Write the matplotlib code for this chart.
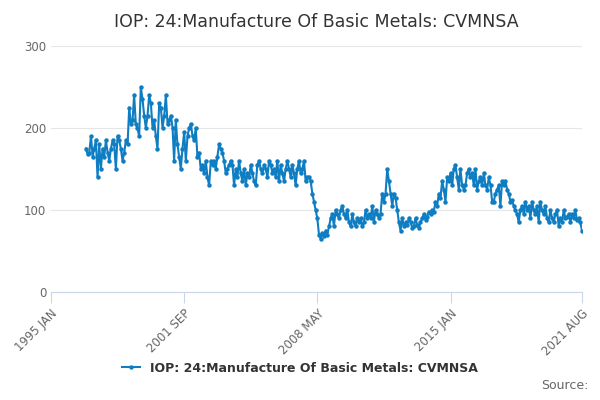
import numpy as np
import pandas as pd
import matplotlib
matplotlib.use('Agg')
import matplotlib.pyplot as plt

start = '1996-10'
v1996 = [175, 168, 170]
v1997 = [190, 165, 175, 185, 140, 180, 150, 175, 165, 185, 170, 160]
v1998 = [175, 185, 180, 150, 190, 185, 175, 160, 170, 185, 180, 225]
v1999 = [205, 210, 240, 205, 200, 190, 250, 235, 215, 200, 215, 240]
v2000 = [230, 200, 210, 190, 175, 230, 225, 200, 215, 240, 205, 210]
v2001 = [215, 200, 160, 210, 180, 165, 150, 175, 195, 160, 190, 200]
v2002 = [205, 190, 185, 200, 165, 170, 150, 155, 145, 160, 140, 130]
v2003 = [160, 155, 160, 150, 165, 180, 175, 170, 160, 145, 150, 155]
v2004 = [160, 155, 130, 150, 140, 160, 145, 135, 150, 130, 145, 140]
v2005 = [155, 145, 135, 130, 155, 160, 150, 145, 155, 150, 140, 160]
v2006 = [155, 145, 150, 140, 160, 135, 155, 145, 135, 150, 160, 150]
v2007 = [140, 155, 145, 130, 150, 160, 145, 150, 160, 135, 140, 140]
v2008 = [135, 120, 110, 100, 90, 70, 65, 72, 68, 75, 70, 80]
v2009 = [90, 95, 80, 100, 95, 90, 100, 105, 95, 90, 100, 85]
v2010 = [80, 95, 85, 80, 90, 85, 90, 80, 85, 100, 90, 95]
v2011 = [90, 105, 85, 100, 95, 90, 95, 120, 110, 120, 150, 135]
v2012 = [120, 105, 120, 115, 100, 85, 75, 90, 80, 85, 82, 90]
v2013 = [85, 78, 80, 90, 82, 78, 85, 90, 95, 88, 92, 98]
v2014 = [95, 100, 98, 110, 105, 120, 115, 135, 125, 110, 140, 135]
v2015 = [145, 130, 150, 155, 140, 125, 150, 130, 125, 130, 145, 150]
v2016 = [140, 145, 130, 150, 125, 135, 140, 130, 145, 130, 125, 140]
v2017 = [130, 110, 110, 120, 125, 130, 105, 135, 130, 135, 125, 120]
v2018 = [110, 112, 105, 100, 95, 85, 100, 105, 95, 110, 100, 105]
v2019 = [90, 110, 100, 95, 105, 85, 110, 100, 95, 105, 90, 85]
v2020 = [100, 90, 85, 95, 100, 80, 90, 85, 100, 90, 92, 95]
v2021 = [85, 95, 90, 100, 88, 90, 85, 75]

values = (v1996 + v1997 + v1998 + v1999 + v2000 + v2001 + v2002 + v2003 + v2004
          + v2005 + v2006 + v2007 + v2008 + v2009 + v2010 + v2011 + v2012 + v2013
          + v2014 + v2015 + v2016 + v2017 + v2018 + v2019 + v2020 + v2021)
dates = pd.date_range(start, periods=len(values), freq='MS')

tick_dates = pd.to_datetime(['1995-01-01', '2001-09-01', '2008-05-01', '2015-01-01', '2021-08-01'])
tick_labels = ['1995 JAN', '2001 SEP', '2008 MAY', '2015 JAN', '2021 AUG']

color = '#0f7dc2'
fig = plt.figure(figsize=(6, 4), dpi=100)
ax = fig.add_axes([0.085, 0.27, 0.885, 0.615])
ax.plot(dates, values, color=color, lw=1.5, marker='o', ms=2.2,
        label='IOP: 24:Manufacture Of Basic Metals: CVMNSA')
ax.set_xlim(tick_dates[0], tick_dates[-1])
ax.set_ylim(0, 300)
ax.set_yticks([0, 100, 200, 300])
ax.set_xticks(tick_dates)
ax.set_xticklabels(tick_labels, rotation=45, ha='right', rotation_mode='anchor')
ax.tick_params(colors='#666666', labelsize=8.5, length=0)
ax.tick_params(axis='x', length=8, color='#ccd6eb', pad=3)
ax.grid(axis='y', color='#e6e6e6', lw=0.8)
for s in ['top', 'right', 'left']:
    ax.spines[s].set_visible(False)
ax.spines['bottom'].set_color('#ccd6eb')
ax.set_title('IOP: 24:Manufacture Of Basic Metals: CVMNSA', fontsize=12.5, color='#333333', pad=14)
fig.legend(loc='lower center', bbox_to_anchor=(0.5, 0.035), frameon=False,
           prop={'size': 9, 'weight': 'bold'}, labelcolor='#333333', handlelength=1.5)
fig.text(0.98, 0.02, 'Source:', ha='right', va='bottom', fontsize=9, color='#666666')
fig.savefig('out.png')
